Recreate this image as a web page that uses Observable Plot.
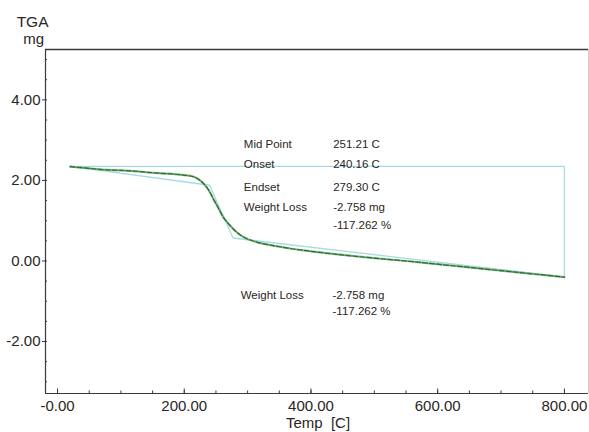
<!DOCTYPE html>
<html>
<head>
<meta charset="utf-8">
<script src="https://cdn.jsdelivr.net/npm/d3@7"></script>
<script src="https://cdn.jsdelivr.net/npm/@observablehq/plot@0.6"></script>
<style>
  html, body { margin: 0; padding: 0; background: #fff; }
</style>
</head>
<body>
<div id="chart"></div>
<script>
// TGA curve (temperature °C, mass mg)
const tempC  = [20, 50, 70, 100, 120, 150, 180, 200, 215, 225, 230, 238, 248, 255, 261, 270, 277, 288, 298, 310, 324, 345, 367, 400, 450, 500, 550, 600, 650, 700, 750, 800];
const massMg = [2.34, 2.30, 2.27, 2.25, 2.23, 2.19, 2.16, 2.13, 2.09, 2.00, 1.93, 1.77, 1.48, 1.28, 1.10, 0.92, 0.80, 0.65, 0.56, 0.49, 0.43, 0.37, 0.31, 0.24, 0.15, 0.07, 0.00, -0.08, -0.16, -0.24, -0.32, -0.40];

// tangent construction line
const tangentX = [20, 240, 277, 800];
const tangentY = [2.35, 1.88, 0.57, -0.40];

// weight-loss step box
const boxX = [20, 800, 800];
const boxY = [2.35, 2.35, -0.40];

// axes
const xDomain = [-19, 838];
const yDomain = [-3.29, 5.25];
const xMajorTicks = [0, 200, 400, 600, 800];
const xMajorLabels = ["-0.00", "200.00", "400.00", "600.00", "800.00"];
const xMinorTicks = [0, 50, 100, 150, 200, 250, 300, 350, 400, 450, 500, 550, 600, 650, 700, 750, 800];
const yMajorTicks = [-2, 0, 2, 4];
const yMajorLabels = ["-2.00", "0.00", "2.00", "4.00"];
const yMinorTicks = [-3, -2.5, -2, -1.5, -1, -0.5, 0, 0.5, 1, 1.5, 2, 2.5, 3, 3.5, 4, 4.5, 5];

// annotation block (data-space anchor positions)
const infoLabels = ["Mid Point", "Onset", "Endset", "Weight Loss"];
const infoValues = ["251.21 C", "240.16 C", "279.30 C", "-2.758 mg", "-117.262 %"];
const infoRowY   = [2.89, 2.41, 1.84, 1.32, 0.88];
const infoLabelX = 294;
const infoValueX = 435;

const lossLabels = ["Weight Loss"];
const lossValues = ["-2.758 mg", "-117.262 %"];
const lossRowY   = [-0.85, -1.26];
const lossLabelX = 289;
const lossValueX = 434;

const W = 589, H = 432;
const mT = 49, mB = 39, mL = 45, mR = 1;
const innerW = W - mL - mR, innerH = H - mT - mB;

const curve = tempC.map((t, i) => ({t, m: massMg[i]}));
const tangent = tangentX.map((t, i) => ({t, m: tangentY[i]}));
const box = boxX.map((t, i) => ({t, m: boxY[i]}));
const info = infoLabels.map((s, i) => ({s, y: infoRowY[i]}));
const infoV = infoValues.map((s, i) => ({s, y: infoRowY[i]}));
const loss = lossLabels.map((s, i) => ({s, y: lossRowY[i]}));
const lossV = lossValues.map((s, i) => ({s, y: lossRowY[i]}));

const textColor = "#2a2624";
const cyan = "#a6dbe3";

const chart = Plot.plot({
  width: W, height: H,
  marginTop: mT, marginBottom: mB, marginLeft: mL, marginRight: mR,
  style: {fontFamily: "'Liberation Sans', Arial, sans-serif", fontSize: "15px", color: textColor, background: "#fff", overflow: "visible"},
  x: {domain: xDomain, axis: null},
  y: {domain: yDomain, axis: null},
  marks: [
    // frame
    Plot.ruleX([xDomain[1]], {stroke: "#cfcfcf", strokeWidth: 1}),
    Plot.ruleY([yDomain[1]], {stroke: "#3a3a3a", strokeWidth: 1.5}),
    Plot.ruleY([yDomain[0]], {stroke: "#3a3a3a", strokeWidth: 1.2}),
    Plot.ruleX([xDomain[0]], {stroke: "#3a3a3a", strokeWidth: 1.2}),
    // ticks
    Plot.tickX(xMinorTicks, {x: d => d, insetTop: innerH - 2.5, stroke: "#3a3a3a"}),
    Plot.tickX(xMajorTicks, {x: d => d, insetTop: innerH - 4.5, stroke: "#3a3a3a"}),
    Plot.tickY(yMinorTicks, {y: d => d, insetRight: innerW - 2, stroke: "#3a3a3a"}),
    Plot.axisX({ticks: xMajorTicks, tickSize: 0, tickPadding: 7, tickFormat: d => xMajorLabels[xMajorTicks.indexOf(d)], fontSize: 15, fill: textColor, label: null}),
    Plot.axisY({ticks: yMajorTicks, tickSize: 3, tickPadding: 2, tickFormat: d => yMajorLabels[yMajorTicks.indexOf(d)], fontSize: 15, fill: textColor, stroke: "#3a3a3a", label: null}),
    // axis titles
    Plot.text(["TGA"], {frameAnchor: "top-left", textAnchor: "end", lineAnchor: "bottom", dx: 3, dy: -23, fontSize: 15.5, fill: textColor}),
    Plot.text(["mg"], {frameAnchor: "top-left", textAnchor: "end", lineAnchor: "bottom", dx: -1.5, dy: -6, fontSize: 15, fill: textColor}),
    Plot.text(["Temp\u00a0 [C]"], {frameAnchor: "bottom", lineAnchor: "bottom", dx: 1, dy: 34, fontSize: 15, fill: textColor}),
    // construction lines
    Plot.line(box, {x: "t", y: "m", stroke: cyan, strokeWidth: 1.3}),
    Plot.line(tangent, {x: "t", y: "m", stroke: cyan, strokeWidth: 1.3}),
    // TGA curve
    Plot.line(curve, {x: "t", y: "m", stroke: "#86bf86", strokeWidth: 2.2, curve: "monotone-x"}),
    Plot.line(curve, {x: "t", y: "m", stroke: "#2d6a35", strokeWidth: 1.2, strokeDasharray: "5,2", curve: "monotone-x"}),
    // annotations
    Plot.text(info, {x: () => infoLabelX, y: "y", text: "s", textAnchor: "start", fontSize: 11.5, fill: textColor}),
    Plot.text(infoV, {x: () => infoValueX, y: "y", text: "s", textAnchor: "start", fontSize: 11.5, fill: textColor}),
    Plot.text(loss, {x: () => lossLabelX, y: "y", text: "s", textAnchor: "start", fontSize: 11.5, fill: textColor}),
    Plot.text(lossV, {x: () => lossValueX, y: "y", text: "s", textAnchor: "start", fontSize: 11.5, fill: textColor})
  ]
});
document.getElementById("chart").appendChild(chart);
</script>
</body>
</html>
